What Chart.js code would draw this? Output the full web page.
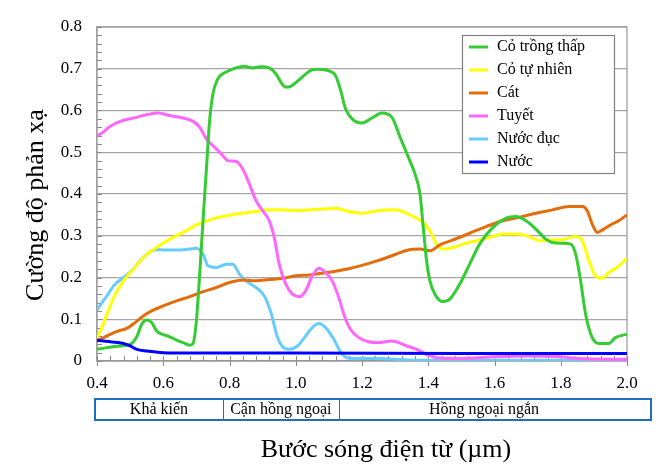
<!DOCTYPE html>
<html>
<head>
<meta charset="utf-8">
<script src="https://cdn.jsdelivr.net/npm/chart.js@4.4.1/dist/chart.umd.min.js"></script>
<style>
html,body{margin:0;padding:0;background:#fff;}
#wrap{width:671px;height:473px;position:relative;}
</style>
</head>
<body>
<div id="wrap"><canvas id="c" width="671" height="473"></canvas></div>
<script>
// ---- Data (wavelength in µm, reflectance) ----
const seriesLabels = ["Cỏ trồng thấp", "Cỏ tự nhiên", "Cát", "Tuyết", "Nước đục", "Nước"];
const seriesColors = ["#33CC33", "#FFFF00", "#E46C0A", "#FF66FF", "#66CCFF", "#0000FF"];

const grassX = [0.40,0.43,0.47,0.50,0.52,0.535,0.55,0.565,0.58,0.60,0.62,0.64,0.66,0.68,0.69,0.70,0.71,0.72,0.73,0.74,0.75,0.765,0.78,0.80,0.82,0.845,0.87,0.895,0.92,0.94,0.955,0.97,0.985,1.005,1.025,1.045,1.07,1.10,1.12,1.135,1.15,1.17,1.20,1.23,1.26,1.29,1.315,1.34,1.36,1.375,1.385,1.395,1.405,1.42,1.445,1.465,1.495,1.525,1.555,1.595,1.635,1.665,1.695,1.725,1.755,1.775,1.805,1.83,1.845,1.86,1.875,1.895,1.915,1.945,1.965,2.00];
const grassY = [0.028,0.032,0.036,0.040,0.058,0.088,0.098,0.092,0.072,0.063,0.058,0.050,0.044,0.038,0.042,0.096,0.208,0.336,0.456,0.576,0.640,0.676,0.688,0.696,0.702,0.706,0.702,0.705,0.702,0.688,0.668,0.656,0.658,0.670,0.684,0.696,0.699,0.695,0.684,0.650,0.605,0.580,0.570,0.582,0.594,0.584,0.536,0.488,0.448,0.400,0.320,0.240,0.192,0.160,0.142,0.148,0.184,0.232,0.280,0.320,0.342,0.346,0.336,0.316,0.292,0.284,0.282,0.280,0.256,0.192,0.112,0.056,0.042,0.042,0.056,0.064];

const wildX = [0.40,0.415,0.43,0.45,0.48,0.51,0.54,0.58,0.62,0.66,0.70,0.74,0.78,0.82,0.85,0.88,0.92,0.96,1.00,1.04,1.08,1.12,1.16,1.20,1.25,1.30,1.34,1.37,1.39,1.41,1.425,1.445,1.475,1.505,1.545,1.585,1.625,1.665,1.705,1.735,1.765,1.805,1.845,1.865,1.885,1.905,1.925,1.945,1.97,2.00];
const wildY = [0.055,0.080,0.112,0.152,0.192,0.220,0.248,0.272,0.292,0.308,0.326,0.338,0.346,0.352,0.355,0.358,0.362,0.362,0.360,0.362,0.364,0.366,0.358,0.354,0.360,0.362,0.352,0.340,0.328,0.304,0.280,0.268,0.272,0.280,0.288,0.296,0.304,0.304,0.298,0.288,0.290,0.291,0.298,0.288,0.240,0.204,0.198,0.212,0.224,0.246];

const sandX = [0.40,0.44,0.465,0.49,0.515,0.54,0.565,0.60,0.64,0.68,0.72,0.76,0.80,0.84,0.88,0.92,0.96,1.00,1.04,1.08,1.12,1.16,1.20,1.25,1.30,1.34,1.375,1.405,1.435,1.475,1.525,1.575,1.625,1.675,1.725,1.775,1.825,1.865,1.88,1.895,1.91,1.93,1.955,1.975,2.00];
const sandY = [0.048,0.064,0.072,0.078,0.092,0.108,0.120,0.132,0.144,0.154,0.166,0.176,0.188,0.194,0.192,0.195,0.198,0.204,0.206,0.210,0.215,0.221,0.229,0.241,0.255,0.266,0.268,0.264,0.278,0.290,0.306,0.322,0.336,0.344,0.354,0.362,0.370,0.370,0.360,0.328,0.308,0.316,0.328,0.336,0.350];

const snowX = [0.40,0.415,0.44,0.47,0.51,0.55,0.585,0.62,0.66,0.69,0.71,0.73,0.75,0.775,0.795,0.82,0.84,0.86,0.88,0.90,0.92,0.935,0.95,0.97,0.99,1.01,1.03,1.05,1.07,1.09,1.11,1.13,1.145,1.165,1.19,1.22,1.25,1.29,1.335,1.365,1.395,1.425,1.50,1.60,1.70,1.80,1.855,2.00];
const snowY = [0.540,0.546,0.562,0.574,0.582,0.590,0.594,0.588,0.582,0.574,0.560,0.532,0.516,0.496,0.480,0.478,0.460,0.424,0.384,0.360,0.336,0.296,0.232,0.184,0.160,0.154,0.168,0.204,0.222,0.212,0.192,0.152,0.112,0.076,0.056,0.046,0.044,0.048,0.036,0.028,0.016,0.008,0.006,0.010,0.012,0.010,0.006,0.004];

const turbidX = [0.40,0.415,0.43,0.45,0.48,0.51,0.53,0.555,0.58,0.61,0.65,0.68,0.70,0.72,0.735,0.76,0.79,0.81,0.83,0.85,0.88,0.905,0.925,0.945,0.96,0.98,1.005,1.03,1.055,1.07,1.09,1.115,1.135,1.155,1.19,1.25,1.35,2.00];
const turbidY = [0.122,0.140,0.156,0.180,0.200,0.220,0.240,0.258,0.267,0.266,0.266,0.268,0.270,0.256,0.228,0.224,0.232,0.232,0.208,0.192,0.176,0.156,0.116,0.056,0.034,0.028,0.036,0.060,0.084,0.090,0.080,0.052,0.022,0.008,0.006,0.006,0.002,0.002];

const waterX = [0.40,0.44,0.48,0.50,0.52,0.55,0.60,0.68,1.00,1.50,2.00];
const waterY = [0.050,0.046,0.042,0.036,0.028,0.024,0.020,0.019,0.019,0.018,0.018];

const xTicks = [0.4,0.6,0.8,1.0,1.2,1.4,1.6,1.8,2.0];
const bandEdges = [0.4,0.78,1.13];
const bandLabels = ["Khả kiến", "Cận hồng ngoại", "Hồng ngoại ngắn"];
const xTitle = "Bước sóng điện từ (µm)";
const yTitle = "Cường độ phản xạ";

const FONT = "'Liberation Serif','Times New Roman',serif";

function pts(xs, ys){ return xs.map((x,i)=>({x:x, y:ys[i]})); }
const allX = [grassX, wildX, sandX, snowX, turbidX, waterX];
const allY = [grassY, wildY, sandY, snowY, turbidY, waterY];

const datasets = seriesLabels.map((lab,i)=>({
  label: lab,
  data: pts(allX[i], allY[i]),
  borderColor: seriesColors[i],
  backgroundColor: seriesColors[i],
  borderWidth: 3,
  pointRadius: 0,
  fill: false,
  cubicInterpolationMode: 'monotone',
  order: [1,4,3,2,5,0][i]
}));

const decor = {
  id: 'decor',
  beforeDatasetsDraw(chart){
    const {ctx, chartArea:a, scales:{x, y}} = chart;
    ctx.save();
    // plot frame
    ctx.strokeStyle = '#a0a0a0';
    ctx.lineWidth = 1.3;
    ctx.strokeRect(a.left, a.top, a.right - a.left, a.bottom - a.top);
    // minor y ticks (inside)
    ctx.strokeStyle = '#8c8c8c';
    ctx.lineWidth = 1;
    for (let v = 0; v <= 0.8001; v += 0.02) {
      const py = Math.round(y.getPixelForValue(v)) + 0.5;
      ctx.beginPath(); ctx.moveTo(a.left, py); ctx.lineTo(a.left + 5, py); ctx.stroke();
    }
    // minor x ticks (inside) + major crossing
    for (let k = 0; k <= 40; k++) {
      const v = 0.4 + k * 0.04;
      const px = Math.round(x.getPixelForValue(v)) + 0.5;
      ctx.beginPath();
      if (k % 5 === 0) { ctx.moveTo(px, a.bottom - 5); ctx.lineTo(px, a.bottom + 5); }
      else { ctx.moveTo(px, a.bottom - 5); ctx.lineTo(px, a.bottom); }
      ctx.stroke();
    }
    ctx.restore();
  },
  afterDraw(chart){
    const {ctx, chartArea:a, scales:{x}} = chart;
    ctx.save();
    // band below axis
    const bTop = 399, bBot = 420, bLeft = 95, bRight = 651;
    ctx.strokeStyle = '#1F6FC0';
    ctx.lineWidth = 2;
    ctx.strokeRect(bLeft, bTop, bRight - bLeft, bBot - bTop);
    ctx.lineWidth = 1;
    const divs = [x.getPixelForValue(bandEdges[1]), x.getPixelForValue(bandEdges[2])];
    divs.forEach(px=>{ ctx.beginPath(); ctx.moveTo(Math.round(px)+0.5, bTop); ctx.lineTo(Math.round(px)+0.5, bBot); ctx.stroke(); });
    ctx.fillStyle = '#000';
    ctx.font = '16px ' + FONT;
    ctx.textAlign = 'center';
    ctx.textBaseline = 'middle';
    const centers = [(bLeft + divs[0]) / 2, (divs[0] + divs[1]) / 2, 484];
    bandLabels.forEach((t,i)=>ctx.fillText(t, centers[i], 410));
    // x title
    ctx.font = '26px ' + FONT;
    ctx.textBaseline = 'alphabetic';
    ctx.fillText(xTitle, 386, 457);
    // y title
    ctx.save();
    ctx.translate(43, 205);
    ctx.rotate(-Math.PI / 2);
    ctx.font = '26px ' + FONT;
    ctx.textAlign = 'center';
    ctx.textBaseline = 'alphabetic';
    ctx.fillText(yTitle, 0, 0);
    ctx.restore();
    // legend
    const lx = 462, ly = 35, lw = 152, lh = 138;
    ctx.fillStyle = '#fff';
    ctx.fillRect(lx, ly, lw, lh);
    ctx.strokeStyle = '#808080';
    ctx.lineWidth = 1.2;
    ctx.strokeRect(lx + 0.5, ly + 0.5, lw, lh);
    ctx.font = '16px ' + FONT;
    ctx.textAlign = 'left';
    ctx.textBaseline = 'middle';
    chart.data.datasets.forEach((ds,i)=>{
      const ry = 47 + i * 23;
      ctx.strokeStyle = ds.borderColor;
      ctx.lineWidth = 3;
      ctx.beginPath(); ctx.moveTo(469, ry); ctx.lineTo(488, ry); ctx.stroke();
      ctx.fillStyle = '#000';
      ctx.fillText(ds.label, 497, ry);
    });
    ctx.restore();
  }
};

new Chart(document.getElementById('c'), {
  type: 'line',
  data: { datasets: datasets },
  options: {
    responsive: false,
    animation: false,
    events: [],
    layout: { padding: { left: 0, right: 44, top: 27, bottom: 0 } },
    plugins: { legend: { display: false }, tooltip: { enabled: false } },
    scales: {
      x: {
        type: 'linear',
        min: 0.4, max: 2.0,
        afterFit(s){ s.height = 112; },
        afterBuildTicks(s){ s.ticks = xTicks.map(v=>({value:v})); },
        ticks: {
          padding: 12,
          color: '#000',
          font: { family: FONT, size: 17 },
          maxRotation: 0,
          callback: v => Number(v).toFixed(1)
        },
        grid: { display: false, drawTicks: false },
        border: { display: true, color: '#8c8c8c', width: 1.3 }
      },
      y: {
        min: 0, max: 0.8,
        afterFit(s){ s.width = 97; },
        ticks: {
          stepSize: 0.1,
          padding: 15,
          color: '#000',
          font: { family: FONT, size: 17 }
        },
        grid: { color: '#a6a6a6', lineWidth: 1.3, drawTicks: false },
        border: { display: true, color: '#a0a0a0', width: 1.3 }
      }
    }
  },
  plugins: [decor]
});
</script>
</body>
</html>
